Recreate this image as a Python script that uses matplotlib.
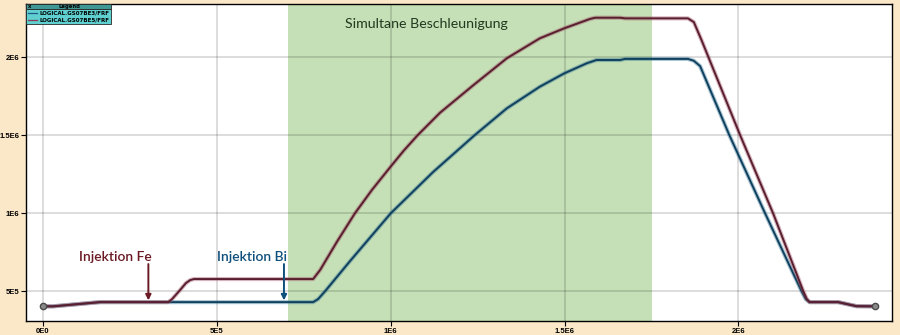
import matplotlib
matplotlib.use('Agg')
import matplotlib.pyplot as plt
from matplotlib.patches import Rectangle

# curve GS07BE3 (blue)
blue_x = [0, 2.9e4, 1.64e5, 7.77e5, 7.91e5, 8.11e5, 8.83e5, 1.0e6, 1.122e6, 1.242e6,
          1.334e6, 1.429e6, 1.499e6, 1.564e6, 1.592e6, 1.66e6, 1.674e6, 1.855e6,
          1.872e6, 1.89e6, 1.974e6, 2.077e6, 2.182e6, 2.194e6, 2.205e6, 2.287e6,
          2.34e6, 2.393e6]
blue_y = [4.04e5, 4.04e5, 4.31e5, 4.31e5, 4.5e5, 5.0e5, 6.94e5, 1.0e6, 1.265e6, 1.502e6,
          1.673e6, 1.812e6, 1.897e6, 1.962e6, 1.983e6, 1.983e6, 1.99e6, 1.99e6,
          1.978e6, 1.944e6, 1.502e6, 1.0e6, 5.0e5, 4.5e5, 4.31e5, 4.31e5,
          4.05e5, 4.04e5]

# curve GS07BE5 (red)
red_x = [0, 2.9e4, 1.64e5, 3.6e5, 3.71e5, 3.94e5, 4.11e5, 4.23e5, 4.34e5, 7.77e5,
         7.97e5, 8.46e5, 8.97e5, 9.46e5, 1.0e6, 1.038e6, 1.078e6, 1.142e6, 1.238e6,
         1.334e6, 1.429e6, 1.499e6, 1.573e6, 1.588e6, 1.66e6, 1.674e6, 1.855e6,
         1.872e6, 1.894e6, 2.005e6, 2.1e6, 2.187e6, 2.197e6, 2.205e6, 2.287e6,
         2.34e6, 2.393e6]
red_y = [4.04e5, 4.04e5, 4.31e5, 4.31e5, 4.5e5, 5.08e5, 5.53e5, 5.72e5, 5.79e5, 5.79e5,
         6.37e5, 8.2e5, 1.0e6, 1.15e6, 1.3e6, 1.403e6, 1.502e6, 1.645e6, 1.822e6,
         1.994e6, 2.122e6, 2.186e6, 2.246e6, 2.254e6, 2.254e6, 2.25e6, 2.25e6,
         2.226e6, 2.111e6, 1.502e6, 1.0e6, 5.0e5, 4.5e5, 4.31e5, 4.31e5,
         4.05e5, 4.04e5]

x_ticks = [0, 5e5, 1e6, 1.5e6, 2e6]
x_labels = ['0E0', '5E5', '1E6', '1.5E6', '2E6']
y_ticks = [5e5, 1e6, 1.5e6, 2e6]
y_labels = ['5E5', '1E6', '1.5E6', '2E6']

span = (7.05e5, 1.753e6)
legend_names = ['LOGICAL.GS07BE3/FRF', 'LOGICAL.GS07BE5/FRF']

fig = plt.figure(figsize=(9, 3.35), dpi=100, facecolor='#fbe8c9')
ax = fig.add_axes([26/900, 14/335, 866/900, 317/335])
ax.set_xlim(-4.9e4, 2.442e6)
ax.set_ylim(3.1e5, 2.342e6)

ax.axvspan(span[0], span[1], color='#c5dfb6', zorder=0, lw=0)
ax.set_xticks(x_ticks)
ax.set_xticklabels(x_labels)
ax.set_yticks(y_ticks)
ax.set_yticklabels(y_labels)
ax.grid(True, color='black', alpha=0.16, lw=1.2, zorder=1)
ax.set_axisbelow(False)
for lab in ax.get_xticklabels() + ax.get_yticklabels():
    lab.set_fontfamily('Liberation Sans')
    lab.set_fontweight('bold')
    lab.set_fontsize(5.5)
ax.tick_params(axis='both', length=3.5, width=0.8, pad=1.5)
for s in ax.spines.values():
    s.set_linewidth(1.0)

# curves: soft halo + dark core
ax.plot(blue_x, blue_y, color='#2f6f92', lw=3, alpha=0.4, zorder=3, solid_joinstyle='round')
ax.plot(blue_x, blue_y, color='#0f415f', lw=1.4, zorder=3, solid_joinstyle='round')
ax.plot(red_x, red_y, color='#9a4a60', lw=3, alpha=0.4, zorder=4, solid_joinstyle='round')
ax.plot(red_x, red_y, color='#5a1e2e', lw=1.4, zorder=4, solid_joinstyle='round')
ax.plot([red_x[0], red_x[-1]], [red_y[0], red_y[-1]], 'o', ms=4.5, mfc='#8a8a8a',
        mec='#4a4a4a', mew=1, zorder=5)

# annotations
ax.text(1.104e6, 2.213e6, 'Simultane Beschleunigung', family='Lato', fontsize=10.2,
        color='#1f3a1f', ha='center', va='center', zorder=6)
ax.text(2.07e5, 7.22e5, 'Injektion Fe', family='Lato', fontsize=10, fontweight='semibold',
        color='#6b1a24', ha='center', va='center', zorder=6)
ax.text(6.02e5, 7.22e5, 'Injektion Bi', family='Lato', fontsize=10, fontweight='semibold',
        color='#0e4f7c', ha='center', va='center', zorder=6)
ax.annotate('', xy=(3.03e5, 4.42e5), xytext=(3.03e5, 6.75e5),
            arrowprops=dict(arrowstyle='-|>', color='#6b1a24', lw=1.4,
                            mutation_scale=8, shrinkA=0, shrinkB=0), zorder=6)
ax.annotate('', xy=(6.93e5, 4.42e5), xytext=(6.93e5, 6.75e5),
            arrowprops=dict(arrowstyle='-|>', color='#0e4f7c', lw=1.4,
                            mutation_scale=8, shrinkA=0, shrinkB=0), zorder=6)

# legend box in the top left corner (pixel layout converted to axes fraction)
def fx(px):
    return (px - 26) / 866

def fy(py):
    return (321 - py) / 317

ax.add_patch(Rectangle((fx(26), fy(24)), fx(111) - fx(26), fy(9) - fy(24),
                       transform=ax.transAxes, facecolor='#5fcfcf', edgecolor='#2a2a2a',
                       lw=0.6, zorder=7, clip_on=False))
ax.add_patch(Rectangle((fx(26), fy(9)), fx(111) - fx(26), fy(4) - fy(9),
                       transform=ax.transAxes, facecolor='#3f9896', edgecolor='#2a2a2a',
                       lw=0.6, zorder=7, clip_on=False))
ax.text(fx(69), fy(6.6), 'Legend', transform=ax.transAxes, fontsize=3.8, fontweight='bold',
        ha='center', va='center', zorder=8)
ax.text(fx(30), fy(6.6), 'x', transform=ax.transAxes, fontsize=3.8, fontweight='bold',
        ha='center', va='center', zorder=8)
for i, (name, c) in enumerate(zip(legend_names, ['#1f5a88', '#8a3a55'])):
    yy = fy(13.3 + i * 6.5)
    ax.plot([fx(28), fx(37)], [yy, yy], color=c, lw=0.9, transform=ax.transAxes,
            zorder=8, clip_on=False)
    ax.text(fx(39.5), yy, name, transform=ax.transAxes, fontsize=4.0, fontweight='bold',
            ha='left', va='center', zorder=8)

fig.savefig('out.png', dpi=100, facecolor=fig.get_facecolor())
